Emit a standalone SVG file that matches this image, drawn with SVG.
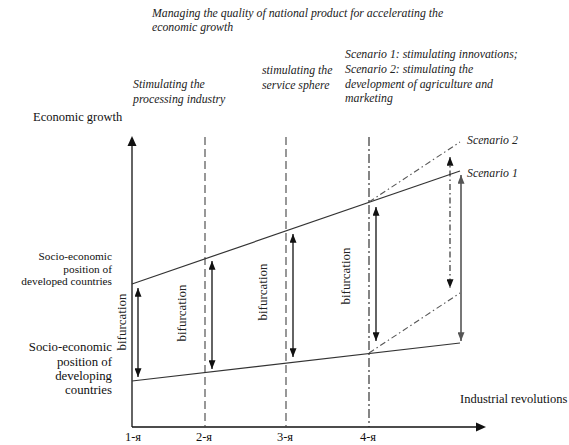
<svg xmlns="http://www.w3.org/2000/svg" width="569" height="445" viewBox="0 0 569 445">
  <style>
    .it { font-family: "Liberation Serif", "Times New Roman", serif; font-style: italic; font-size: 11.8px; fill: #222; }
    .rm { font-family: "Liberation Serif", "Times New Roman", serif; font-size: 12.5px; fill: #111; }
    .bif { font-family: "Liberation Serif", "Times New Roman", serif; font-size: 13px; fill: #222; }
    .axis { stroke: #111; stroke-width: 1.3; fill: none; }
    .grid { stroke: #444; stroke-width: 1.1; stroke-dasharray: 8 4; fill: none; }
    .grid4 { stroke: #222; stroke-width: 1.1; stroke-dasharray: 9 3 2 3; fill: none; }
    .trend { stroke: #333; stroke-width: 1.2; fill: none; }
    .dd { stroke: #555; stroke-width: 1.1; stroke-dasharray: 6 3 1.5 3; fill: none; }
    .arr { stroke: #111; stroke-width: 1.3; fill: none; marker-start: url(#head); marker-end: url(#head); }
  </style>
  <defs>
    <marker id="head" viewBox="0 0 10 8" refX="10" refY="4" markerWidth="9" markerHeight="7" markerUnits="userSpaceOnUse" orient="auto-start-reverse">
      <path d="M0,0 L10,4 L0,8 z" fill="#111"/>
    </marker>
    <marker id="headGray" viewBox="0 0 10 8" refX="10" refY="4" markerWidth="9" markerHeight="7" markerUnits="userSpaceOnUse" orient="auto-start-reverse">
      <path d="M0,0 L10,4 L0,8 z" fill="#555"/>
    </marker>
  </defs>

  <rect width="569" height="445" fill="#fff"/>

  <!-- headings above the chart -->
  <g id="title">
    <text class="it" x="152" y="17">Managing the quality of national product for accelerating the</text>
    <text class="it" x="152" y="31">economic growth</text>
  </g>
  <g id="stage2-label">
    <text class="it" x="133" y="88">Stimulating the</text>
    <text class="it" x="133" y="103">processing industry</text>
  </g>
  <g id="stage3-label">
    <text class="it" x="262" y="74">stimulating the</text>
    <text class="it" x="262" y="89">service sphere</text>
  </g>
  <g id="stage4-label">
    <text class="it" x="345" y="58">Scenario 1: stimulating innovations;</text>
    <text class="it" x="345" y="73">Scenario 2: stimulating the</text>
    <text class="it" x="345" y="88">development of agriculture and</text>
    <text class="it" x="345" y="102">marketing</text>
  </g>

  <!-- axes and revolution boundaries -->
  <g id="connectors">
    <line class="axis" x1="132" y1="427" x2="132" y2="145"/>
    <path d="M127.5,146 L132,136 L136.5,146 z" fill="#111"/>
    <line class="axis" x1="132" y1="427" x2="477" y2="427"/>
    <path d="M476,422.5 L486,427 L476,431.5 z" fill="#111"/>

    <line class="grid" x1="205" y1="137" x2="205" y2="427"/>
    <line class="grid" x1="286" y1="137" x2="286" y2="427"/>
    <line class="grid4" x1="369" y1="137" x2="369" y2="427"/>

    <!-- developed / developing trajectories -->
    <line class="trend" x1="132" y1="284" x2="460" y2="171"/>
    <line class="trend" x1="132" y1="381" x2="460" y2="343"/>
    <line class="dd" x1="369" y1="202" x2="460" y2="142"/>
    <line class="dd" x1="369" y1="353" x2="460" y2="293"/>

    <!-- bifurcation gaps -->
    <line class="arr" x1="138" y1="288" x2="138" y2="377"/>
    <line class="arr" x1="212" y1="261" x2="212" y2="369"/>
    <line class="arr" x1="293" y1="234" x2="293" y2="357"/>
    <line class="arr" x1="376" y1="207" x2="376" y2="341"/>
    <line x1="450" y1="157" x2="450" y2="288" stroke="#222" stroke-width="1.1" stroke-dasharray="6 3 1.5 3" marker-start="url(#head)" marker-end="url(#head)"/>
    <line x1="461" y1="175" x2="461" y2="341" stroke="#555" stroke-width="1.6" marker-start="url(#headGray)" marker-end="url(#headGray)"/>
  </g>

  <!-- axis titles -->
  <g id="y-axis-label">
    <text class="rm" x="33" y="121">Economic growth</text>
  </g>
  <g id="x-axis-label">
    <text class="rm" x="460" y="403">Industrial revolutions</text>
  </g>

  <g id="developed-label">
    <text class="rm" x="112" y="260" text-anchor="end" style="font-size:11.3px">Socio-economic</text>
    <text class="rm" x="112" y="272.5" text-anchor="end" style="font-size:11.3px">position of</text>
    <text class="rm" x="112" y="285" text-anchor="end" style="font-size:11.3px">developed countries</text>
  </g>
  <g id="developing-label">
    <text class="rm" x="112" y="351" text-anchor="end" style="font-size:12.8px">Socio-economic</text>
    <text class="rm" x="112" y="366" text-anchor="end" style="font-size:12.8px">position of</text>
    <text class="rm" x="112" y="380" text-anchor="end" style="font-size:12.8px">developing</text>
    <text class="rm" x="112" y="394" text-anchor="end" style="font-size:12.8px">countries</text>
  </g>

  <g id="scenario-labels">
    <text class="it" x="467" y="144">Scenario 2</text>
    <text class="it" x="467" y="177">Scenario 1</text>
  </g>

  <!-- rotated bifurcation labels -->
  <g id="bifurcation-labels">
    <text class="bif" transform="translate(126,322) rotate(-90)" text-anchor="middle">bifurcation</text>
    <text class="bif" transform="translate(186,313) rotate(-90)" text-anchor="middle">bifurcation</text>
    <text class="bif" transform="translate(267,292) rotate(-90)" text-anchor="middle">bifurcation</text>
    <text class="bif" transform="translate(350,276) rotate(-90)" text-anchor="middle">bifurcation</text>
  </g>

  <g id="revolution-ticks">
    <text class="rm" x="133" y="441" text-anchor="middle" style="font-size:12.5px">1-я</text>
    <text class="rm" x="204" y="441" text-anchor="middle" style="font-size:12.5px">2-я</text>
    <text class="rm" x="285" y="441" text-anchor="middle" style="font-size:12.5px">3-я</text>
    <text class="rm" x="368" y="441" text-anchor="middle" style="font-size:12.5px">4-я</text>
  </g>
</svg>
